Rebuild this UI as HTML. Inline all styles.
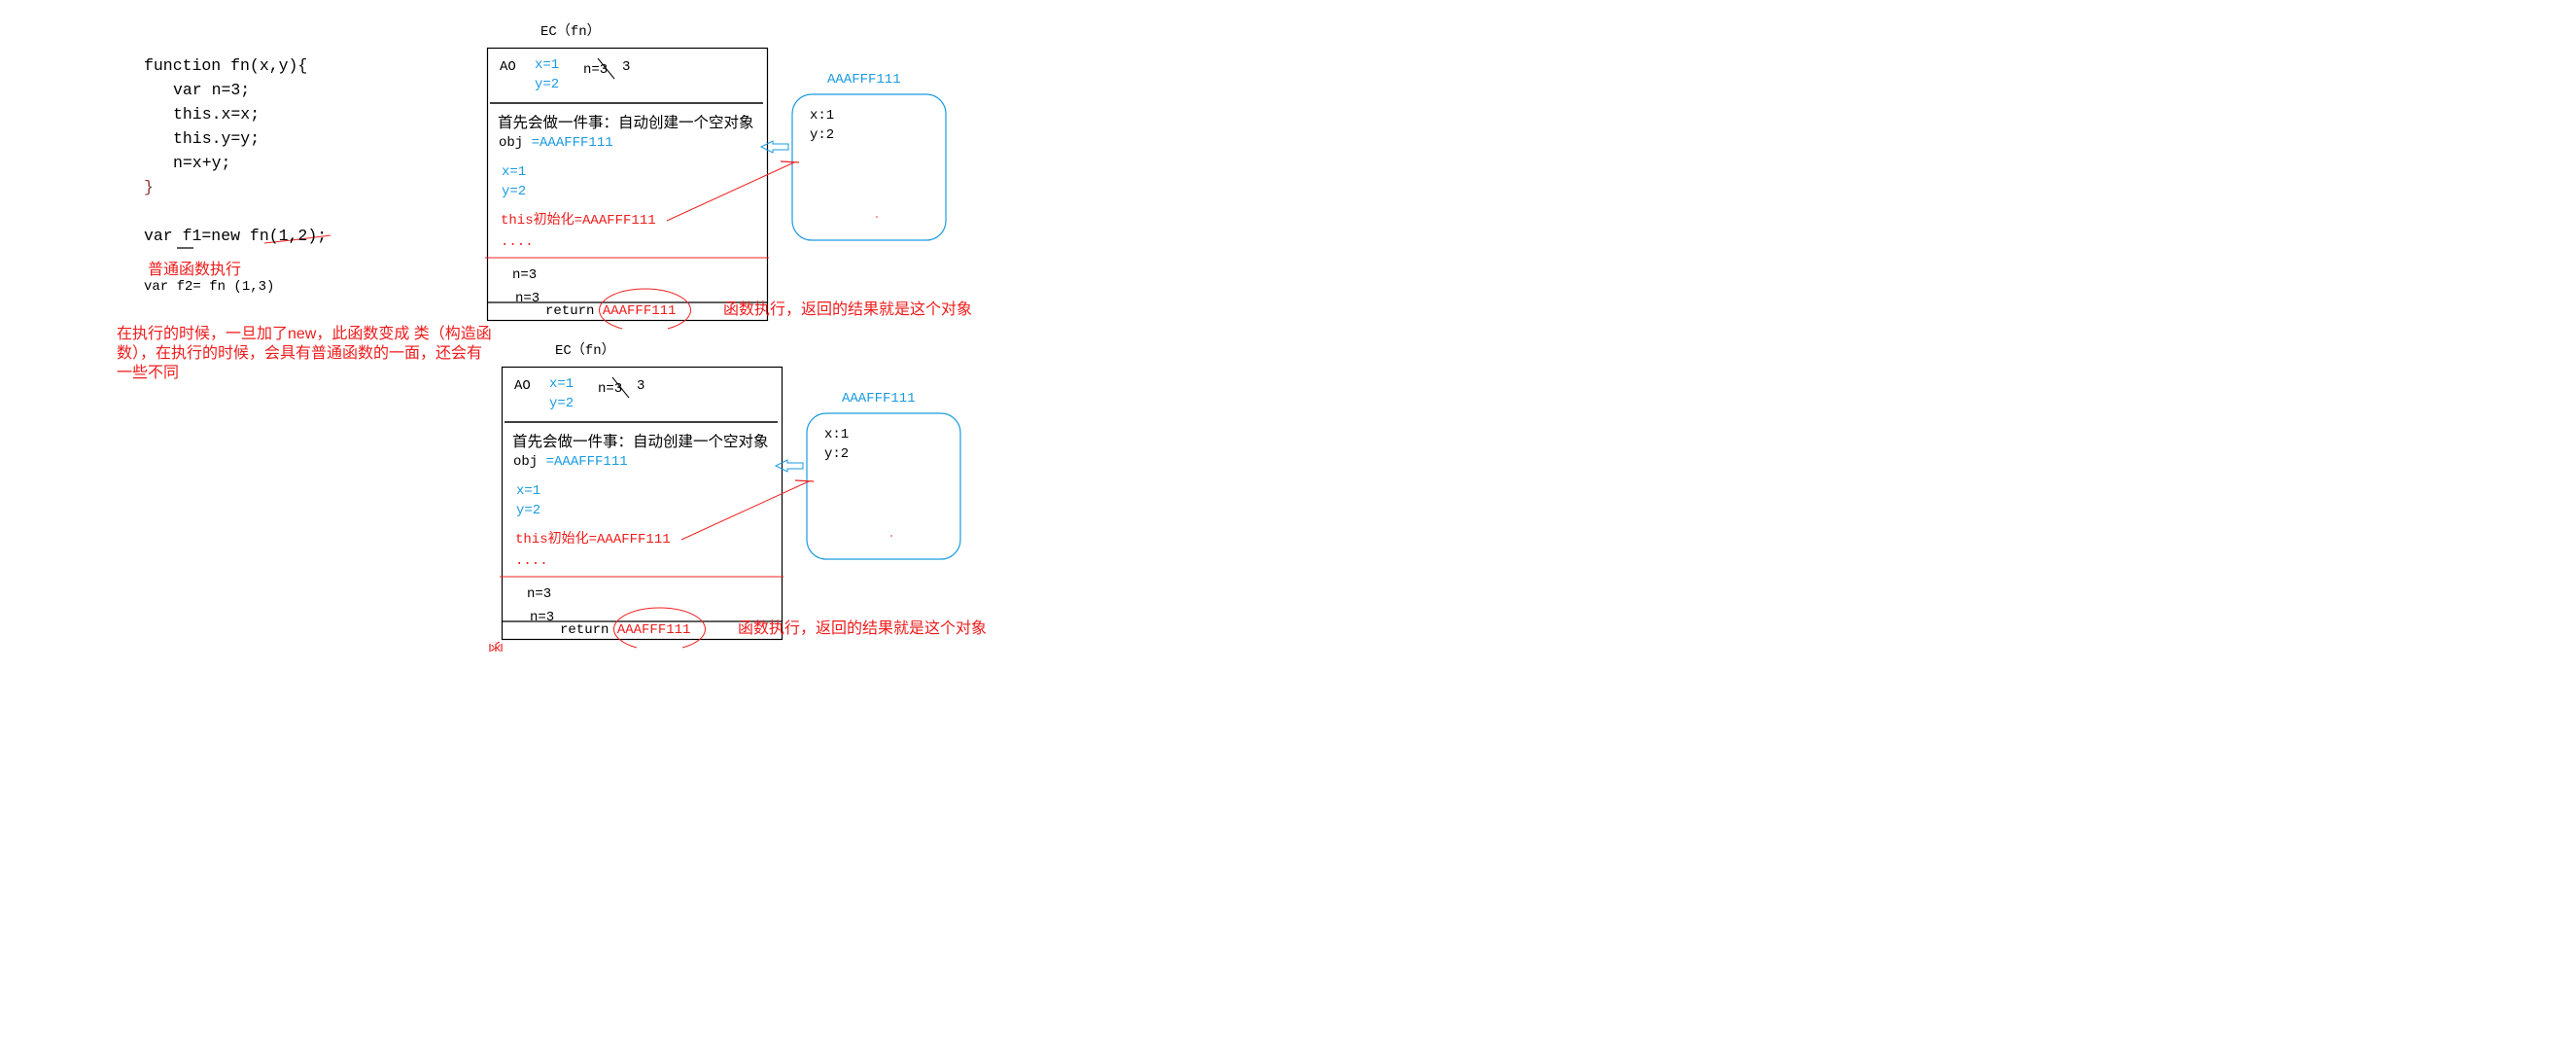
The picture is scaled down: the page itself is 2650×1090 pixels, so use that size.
<!DOCTYPE html>
<html><head><meta charset="utf-8"><style>
html,body{margin:0;padding:0;background:#fff;width:2650px;height:1090px;overflow:hidden;position:relative}
.t{position:absolute;white-space:nowrap;line-height:1;font-family:"Liberation Mono","Noto Sans CJK SC",monospace;font-size:14px;color:#000}
.c{font-family:"Liberation Sans","Noto Sans CJK SC",sans-serif}
.b{color:#1a9ae0}.r{color:#ee1c1c}
svg{position:absolute;left:0;top:0}
</style></head><body>
<svg width="2650" height="1090">
<g id="blk" fill="none">
<rect x="501.5" y="49.5" width="288" height="280" stroke="#000" stroke-width="1.2"/>
<line x1="504" y1="106" x2="785" y2="106" stroke="#000" stroke-width="1.5"/>
<line x1="499" y1="265" x2="791" y2="265" stroke="#e22" stroke-width="1"/>
<line x1="502" y1="311" x2="790" y2="311" stroke="#000" stroke-width="1.2"/>
<line x1="615" y1="60" x2="632" y2="81" stroke="#000" stroke-width="1"/>
<rect x="815" y="97" width="158" height="150" rx="20" stroke="#1a9ae0" stroke-width="1.2"/>
<line x1="686" y1="227" x2="817" y2="167" stroke="#e22" stroke-width="1"/>
<line x1="803" y1="166" x2="822" y2="167" stroke="#e22" stroke-width="1.2"/>
<path d="M811 148 L795 148 L795 145 L783 151 L795 157 L795 154 L811 154 Z" stroke="#1a9ae0" stroke-width="1"/>
<path d="M640 338 A47 22 0 1 1 687 338" stroke="#e22" stroke-width="1"/>
<circle cx="902" cy="223" r="0.8" fill="#e22"/>
</g>
<use href="#blk" transform="translate(15,328)"/>
<line x1="182" y1="255" x2="199" y2="255" stroke="#000" stroke-width="1.2"/>
<path d="M272 250 L300 247 L340 242" stroke="#e22" fill="none" stroke-width="1"/>
</svg>

<div class="t" style="left:148px;top:60px;font-size:16.5px">function fn(x,y){</div>
<div class="t" style="left:178px;top:85px;font-size:16.5px">var n=3;</div>
<div class="t" style="left:178px;top:110px;font-size:16.5px">this.x=x;</div>
<div class="t" style="left:178px;top:135px;font-size:16.5px">this.y=y;</div>
<div class="t" style="left:178px;top:160px;font-size:16.5px">n=x+y;</div>
<div class="t" style="left:148px;top:185px;font-size:16.5px;color:#833">}</div>
<div class="t" style="left:148px;top:235px;font-size:16.5px">var f1=new fn(1,2);</div>
<div class="t c r" style="left:152px;top:270px;font-size:16px">普通函数执行</div>
<div class="t" style="left:148px;top:288px;font-size:14px">var f2= fn (1,3)</div>
<div class="t c r" style="left:120px;top:334px;font-size:16px;line-height:20px">在执行的时候，一旦加了new，此函数变成 类（构造函<br>数），在执行的时候，会具有普通函数的一面，还会有<br>一些不同</div>

<div style="position:absolute;left:0;top:0">
<div class="t" style="left:556px;top:26px">EC（fn）</div>
<div class="t" style="left:514px;top:62px">AO</div>
<div class="t b" style="left:550px;top:60px">x=1</div>
<div class="t b" style="left:550px;top:80px">y=2</div>
<div class="t" style="left:600px;top:65px">n=3</div>
<div class="t" style="left:640px;top:62px">3</div>
<div class="t c" style="left:512px;top:119px;font-size:15.5px">首先会做一件事：自动创建一个空对象</div>
<div class="t" style="left:513px;top:140px">obj <span class="b">=AAAFFF111</span></div>
<div class="t b" style="left:516px;top:170px">x=1</div>
<div class="t b" style="left:516px;top:190px">y=2</div>
<div class="t r" style="left:515px;top:218px">this<span class="c">初始化</span>=AAAFFF111</div>
<div class="t r" style="left:515px;top:242px">....</div>
<div class="t" style="left:527px;top:276px">n=3</div>
<div style="position:absolute;left:502px;top:290px;width:288px;height:20px;overflow:hidden"><div class="t" style="left:28px;top:10px">n=3</div></div>
<div class="t" style="left:561px;top:313px">return <span class="r">AAAFFF111</span></div>
<div class="t c r" style="left:744px;top:311px;font-size:16px">函数执行，返回的结果就是这个对象</div>
<div class="t b" style="left:851px;top:75px">AAAFFF111</div>
<div class="t" style="left:833px;top:112px">x:1</div>
<div class="t" style="left:833px;top:132px">y:2</div>
</div>

<div style="position:absolute;left:15px;top:328px;width:1000px;height:400px">
<div class="t" style="left:556px;top:26px">EC（fn）</div>
<div class="t" style="left:514px;top:62px">AO</div>
<div class="t b" style="left:550px;top:60px">x=1</div>
<div class="t b" style="left:550px;top:80px">y=2</div>
<div class="t" style="left:600px;top:65px">n=3</div>
<div class="t" style="left:640px;top:62px">3</div>
<div class="t c" style="left:512px;top:119px;font-size:15.5px">首先会做一件事：自动创建一个空对象</div>
<div class="t" style="left:513px;top:140px">obj <span class="b">=AAAFFF111</span></div>
<div class="t b" style="left:516px;top:170px">x=1</div>
<div class="t b" style="left:516px;top:190px">y=2</div>
<div class="t r" style="left:515px;top:218px">this<span class="c">初始化</span>=AAAFFF111</div>
<div class="t r" style="left:515px;top:242px">....</div>
<div class="t" style="left:527px;top:276px">n=3</div>
<div style="position:absolute;left:502px;top:290px;width:288px;height:20px;overflow:hidden"><div class="t" style="left:28px;top:10px">n=3</div></div>
<div class="t" style="left:561px;top:313px">return <span class="r">AAAFFF111</span></div>
<div class="t c r" style="left:744px;top:311px;font-size:16px">函数执行，返回的结果就是这个对象</div>
<div class="t b" style="left:851px;top:75px">AAAFFF111</div>
<div class="t" style="left:833px;top:112px">x:1</div>
<div class="t" style="left:833px;top:132px">y:2</div>
</div>
<div style="position:absolute;left:500px;top:660px;width:20px;height:10px;overflow:hidden"><div class="t c r" style="left:2px;top:0;font-size:16px">函</div></div>
</body></html>
